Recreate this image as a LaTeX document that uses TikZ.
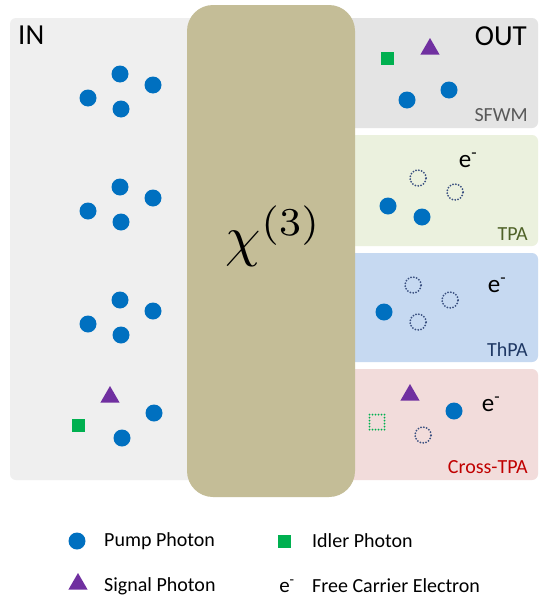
\documentclass[tikz,border=0pt]{standalone}
\usepackage{fontspec}
\setmainfont{Carlito}
\usetikzlibrary{shapes.geometric}
\definecolor{inbg}{HTML}{EFEFEF}
\definecolor{sfbg}{HTML}{E4E4E4}
\definecolor{tpabg}{HTML}{EBF1DE}
\definecolor{thbg}{HTML}{C6D9F1}
\definecolor{crbg}{HTML}{F2DCDB}
\definecolor{chibg}{HTML}{C4BD97}
\definecolor{pump}{HTML}{0070C0}
\definecolor{idler}{HTML}{00B050}
\definecolor{signal}{HTML}{7030A0}
\definecolor{elec}{HTML}{3A5080}
\definecolor{tpatxt}{HTML}{4F6228}
\definecolor{thtxt}{HTML}{1F3864}
\definecolor{crtxt}{HTML}{C00000}
\definecolor{sftxt}{HTML}{595959}
\tikzset{
  panel/.style={rounded corners=6pt, draw=none},
  pumpdot/.style={circle, fill=pump, minimum size=17pt, inner sep=0pt, draw=none},
  idlersq/.style={rectangle, fill=idler, minimum size=13pt, inner sep=0pt, draw=none},
  signaltri/.style={regular polygon, regular polygon sides=3, fill=signal, minimum size=22pt, inner sep=0pt, draw=none},
  holecirc/.style={circle, draw=elec, line width=2pt, line cap=round, dash pattern=on 0pt off 2.9pt, minimum size=16pt, inner sep=0pt},
  holesq/.style={rectangle, draw=idler, line width=2pt, line cap=round, dash pattern=on 0pt off 3pt, minimum size=15pt, inner sep=0pt},
  etext/.style={font=\fontsize{25}{27}\selectfont, inner sep=0pt},
  lbl/.style={font=\fontsize{20}{22}\selectfont, anchor=south east, inner sep=0pt},
  legtxt/.style={font=\fontsize{20}{22}\selectfont, anchor=west, inner sep=0pt},
  bigtxt/.style={font=\fontsize{29}{32}\selectfont, inner sep=0pt},
}
\begin{document}
\begin{tikzpicture}[x=1pt,y=-1pt]
\useasboundingbox (0,0) rectangle (545,616);
\fill[white] (0,0) rectangle (545,616);
% panels
\fill[panel, inbg] (10,18) rectangle (300,480);
\fill[panel, sfbg] (300,18) rectangle (538,128);
\fill[panel, tpabg] (300,135) rectangle (538,246);
\fill[panel, thbg] (300,253) rectangle (538,362);
\fill[panel, crbg] (300,369) rectangle (538,480);
% chi box
\node[fill=chibg, rounded corners=26pt, minimum width=168pt, minimum height=492pt, inner sep=0pt] (chi) at (271,251) {};
\node[inner sep=0pt] (chitxt) at (274,236) {\resizebox{96pt}{!}{$\chi^{(3)}$}};
% labels
\node[bigtxt, anchor=north west] (in) at (18,26) {IN};
\node[bigtxt, anchor=north east] (out) at (527,26) {OUT};
\node[lbl, text=sftxt] (sfwm) at (528,122) {SFWM};
\node[lbl, text=tpatxt] (tpa) at (528,241) {TPA};
\node[lbl, text=thtxt] (thpa) at (528,357) {ThPA};
\node[lbl, text=crtxt] (cross) at (528,474) {Cross-TPA};
% IN groups
\foreach \y [count=\i] in {0,113,226}{
  \node[pumpdot] (a\i) at (88,98+\y) {};
  \node[pumpdot] (b\i) at (120,74+\y) {};
  \node[pumpdot] (c\i) at (153,85+\y) {};
  \node[pumpdot] (d\i) at (121,109+\y) {};
}
\node[idlersq] (insq) at (78,425) {};
\node[signaltri] (intri) at (110,397) {};
\node[pumpdot] (inp1) at (154,413) {};
\node[pumpdot] (inp2) at (122,438) {};
% SFWM
\node[idlersq] (sfsq) at (387,58) {};
\node[signaltri] (sftri) at (430,49) {};
\node[pumpdot] (sfp1) at (407,100) {};
\node[pumpdot] (sfp2) at (449,90) {};
% TPA
\node[etext] (e1) at (468,160) {e\textsuperscript{-}};
\node[holecirc] (th1) at (418,178) {};
\node[holecirc] (th2) at (455,192) {};
\node[pumpdot] (tp1) at (388,206) {};
\node[pumpdot] (tp2) at (422,217) {};
% ThPA
\node[etext] (e2) at (497,285) {e\textsuperscript{-}};
\node[holecirc] (hh1) at (413,285) {};
\node[holecirc] (hh2) at (450,300) {};
\node[holecirc] (hh3) at (418,322) {};
\node[pumpdot] (hp1) at (384,312) {};
% Cross-TPA
\node[etext] (e3) at (491,404) {e\textsuperscript{-}};
\node[signaltri] (ctri) at (410,395) {};
\node[pumpdot] (cp1) at (454,411) {};
\node[holesq] (csq) at (377,422) {};
\node[holecirc] (ch1) at (423,435) {};
% legend
\node[pumpdot] (lp) at (77,541) {};
\node[legtxt] (lpt) at (104,541) {Pump Photon};
\node[idlersq] (lsq) at (284,541) {};
\node[legtxt] (lsqt) at (312,541) {Idler Photon};
\node[signaltri] (ltri) at (78,584) {};
\node[legtxt] (ltrit) at (104,586) {Signal Photon};
\node[etext, font=\fontsize{21}{23}\selectfont] (le) at (287,586) {e\textsuperscript{-}};
\node[legtxt] (let) at (312,586) {Free Carrier Electron};
\end{tikzpicture}
\end{document}
